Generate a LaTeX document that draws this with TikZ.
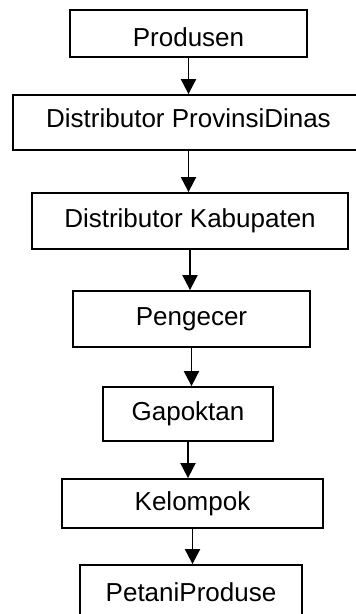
\documentclass[tikz,border=0pt]{standalone}
\usepackage{fontspec}
\setmainfont{Liberation Sans}
\usetikzlibrary{arrows.meta}
\begin{document}
\begin{tikzpicture}[x=1pt,y=-1pt,
  box/.style={draw=black,line width=1.8pt,inner sep=0pt,font=\fontsize{26}{30}\selectfont},
  flow/.style={line width=1.9pt,-{Triangle[width=15pt,length=15pt]}}]
\useasboundingbox (0,0) rectangle (356,614);
\clip (0,0) rectangle (356,614);
\fill[white] (0,0) rectangle (356,614);
\node[box,minimum width=237pt,minimum height=47pt,text height=26.5pt,text depth=0pt] (p) at (188.5,33.5) {Produsen};
\node[box,minimum width=351pt,minimum height=55pt,text height=18.7pt,text depth=9pt] (dp) at (188.5,122.5) {Distributor ProvinsiDinas};
\node[box,minimum width=316pt,minimum height=56pt] (dk) at (190,221) {Distributor Kabupaten};
\node[box,minimum width=237pt,minimum height=56pt] (pg) at (191.5,319) {Pengecer};
\node[box,minimum width=170pt,minimum height=54pt] (gp) at (188,414) {Gapoktan};
\node[box,minimum width=261pt,minimum height=49pt] (kl) at (192.5,503.5) {Kelompok};
\node[box,minimum width=222pt,minimum height=55pt] (pt) at (191,592.5) {PetaniProduse};
\draw[flow] (p.south) -- (p.south |- dp.north);
\draw[flow] (dp.south) -- (dp.south |- dk.north);
\draw[flow] (dk.south) -- (dk.south |- pg.north);
\draw[flow] (pg.south) -- (pg.south |- gp.north);
\draw[flow] (gp.south) -- (gp.south |- kl.north);
\draw[flow] (kl.south) -- (kl.south |- pt.north);
\end{tikzpicture}
\end{document}
